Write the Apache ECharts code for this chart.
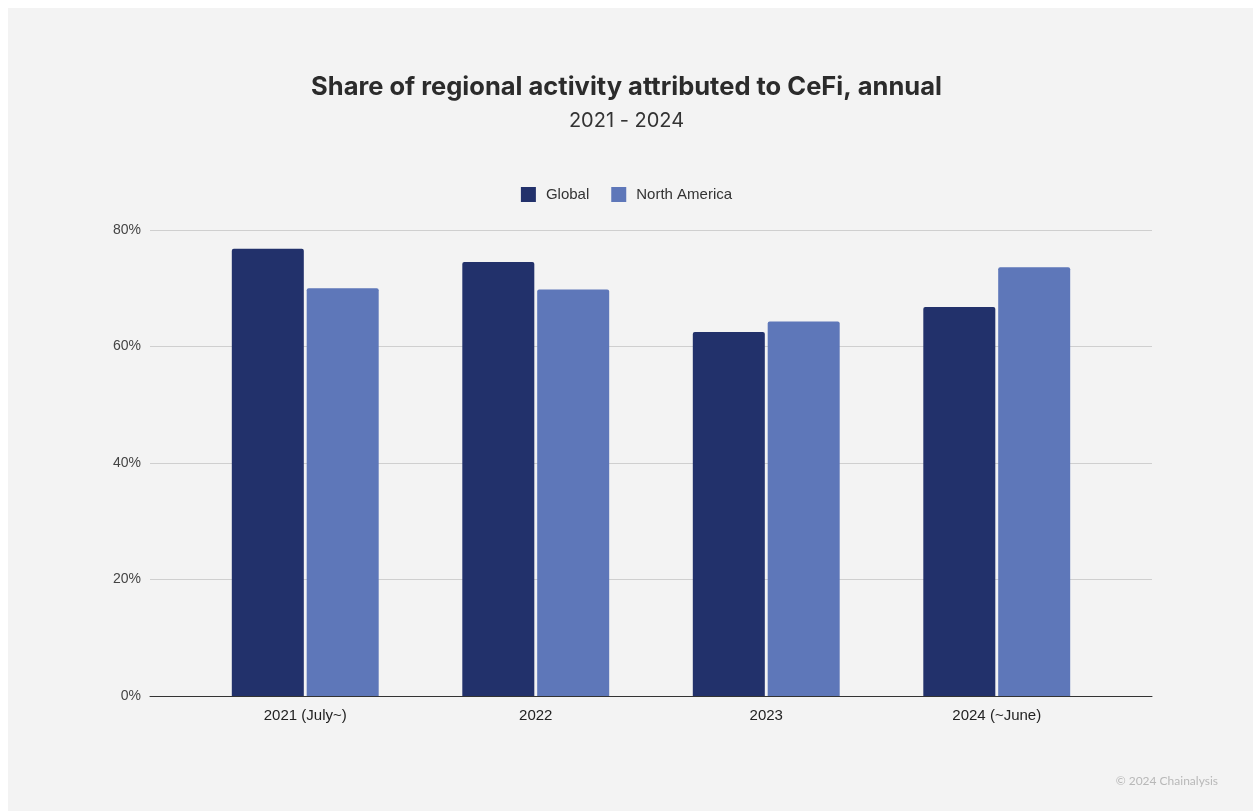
<!DOCTYPE html>
<html>
<head>
<meta charset="utf-8">
<script src="https://cdn.jsdelivr.net/npm/echarts@6/dist/echarts.min.js"></script>
<style>
html,body{margin:0;padding:0;background:#ffffff;}
#wrap{position:absolute;left:8px;top:8px;width:1245px;height:803px;background:#f3f3f3;}
#chart{width:1253px;height:811px;position:absolute;left:0;top:0;}
</style>
</head>
<body>
<div id="wrap"></div>
<div id="chart"></div>
<script>
const categories = ['2021 (July~)', '2022', '2023', '2024 (~June)'];
const globalShare = [76.8, 74.5, 62.5, 66.8];
const northAmericaShare = [70.0, 69.8, 64.3, 73.6];
const yTicks = [0, 20, 40, 60, 80];

const chart = echarts.init(document.getElementById('chart'), null, {renderer: 'canvas'});
const yMin = yTicks[0], yMax = yTicks[yTicks.length - 1], yInt = yTicks[1] - yTicks[0];
const option = {
  backgroundColor: 'transparent',
  animation: false,
  title: [
    {text: 'Share of regional activity attributed to CeFi, annual', left: 'center', top: 69,
     textStyle: {fontFamily: 'Inter', fontWeight: 'bold', fontSize: 25.5, color: '#2b2b2b'}},
    {text: '2021 - 2024', left: 'center', top: 106,
     textStyle: {fontFamily: 'Inter', fontWeight: 'normal', fontSize: 20, color: '#333'}},
    {text: '© 2024 Chainalysis', right: 30, top: 770,
     textStyle: {fontFamily: 'Lato', fontWeight: 'normal', fontSize: 12, color: '#b8b8b8'}}
  ],
  legend: {
    top: 182, left: 'center', itemWidth: 15, itemHeight: 15, itemGap: 22,
    icon: 'rect',
    textStyle: {fontFamily: 'Liberation Sans', fontSize: 15, color: '#333', padding: [0, 0, 0, 5]},
    data: ['Global', 'North America']
  },
  grid: [
    {left: 150, right: 101, top: 230, bottom: 115, containLabel: false},
    {left: 190, right: 141, top: 230, bottom: 115, containLabel: false}
  ],
  xAxis: [
    {type: 'category', gridIndex: 0, data: categories, show: true,
     axisLine: {show: true, lineStyle: {color: '#333', width: 1}},
     axisTick: {show: false}, axisLabel: {show: false}, splitLine: {show: false}},
    {type: 'category', gridIndex: 1, data: categories,
     axisLine: {show: false}, axisTick: {show: false},
     axisLabel: {fontFamily: 'Liberation Sans', fontSize: 15, color: '#222', margin: 12}}
  ],
  yAxis: [
    {type: 'value', gridIndex: 0, min: yMin, max: yMax, interval: yInt,
     axisLine: {show: false}, axisTick: {show: false},
     axisLabel: {formatter: '{value}%', fontFamily: 'Liberation Sans', fontSize: 14, color: '#444', margin: 9},
     splitLine: {lineStyle: {color: '#cfcfcf', width: 1}}},
    {type: 'value', gridIndex: 1, min: yMin, max: yMax, interval: yInt, show: false,
     splitLine: {show: false}}
  ],
  series: [
    {name: 'Global', type: 'bar', xAxisIndex: 1, yAxisIndex: 1, data: globalShare,
     barWidth: 72, barGap: '4%', itemStyle: {color: '#22316b', borderRadius: [2, 2, 0, 0]}},
    {name: 'North America', type: 'bar', xAxisIndex: 1, yAxisIndex: 1, data: northAmericaShare,
     barWidth: 72, barGap: '4%', itemStyle: {color: '#5e77b9', borderRadius: [2, 2, 0, 0]}}
  ]
};
chart.setOption(option);
</script>
</body>
</html>
